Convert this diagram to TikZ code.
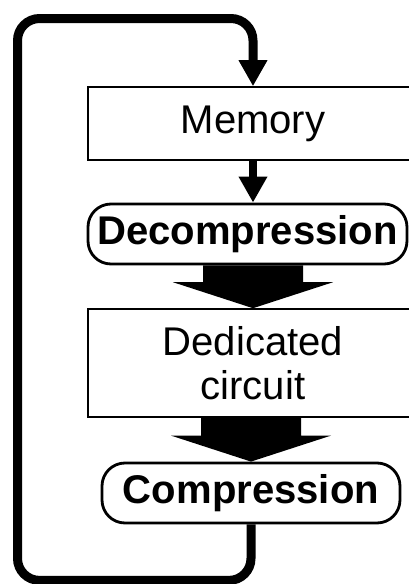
\documentclass[tikz,border=0pt]{standalone}
\usepackage{fontspec}
\setmainfont{Liberation Sans}
\usetikzlibrary{arrows.meta,positioning,calc}
\tikzset{
  blk/.style={draw, line width=0.9pt, align=center,
              font=\fontsize{22.8}{25}\selectfont},
  proc/.style={draw, line width=1.6pt, rounded corners=4.6mm, align=center,
               font=\fontsize{22.8}{25}\selectfont\bfseries},
  flow/.style={line width=1.7mm, -{Triangle[width=5.4mm, length=5.2mm]}},
  loopln/.style={flow, line width=1.8mm, rounded corners=4.4mm},
}
% wide block arrow between two stacked nodes
\newcommand{\fatarrow}[2]{%
  \fill ($(#1.south -| #2.north)+(-1,0)$) -- ($(#2.north)+(-1,0.52)$)
     -- ($(#2.north)+(-1.6,0.52)$) -- (#2.north) -- ($(#2.north)+(1.6,0.52)$)
     -- ($(#2.north)+(1,0.52)$) -- ($(#1.south -| #2.north)+(1,0)$) -- cycle;}

\begin{document}
\begin{tikzpicture}
    \useasboundingbox (0,0) rectangle (8.18,-11.68);
    \node[blk, minimum width=6.6cm, minimum height=1.46cm] (mem) at (5.06,-2.47) {Memory};
    \node[proc, minimum width=6.38cm, minimum height=1.2cm] (dec) at (4.95,-4.68) {Decompression};
    \node[blk, minimum width=6.6cm, minimum height=2.16cm] (ded) at (5.06,-7.26) {Dedicated\\circuit};
    \node[proc, minimum width=5.96cm, minimum height=1.2cm] (comp) at (5.02,-9.86) {Compression};
    \draw[flow] (mem.south) -- (mem.south |- dec.north);
    \fatarrow{dec}{ded}
    \fatarrow{ded}{comp}
    % feedback loop back into memory
    \draw[loopln] (comp.south) -- ++(0,-1.12) -| (0.35,-0.37) -| (mem.north);
  \end{tikzpicture}
\end{document}
